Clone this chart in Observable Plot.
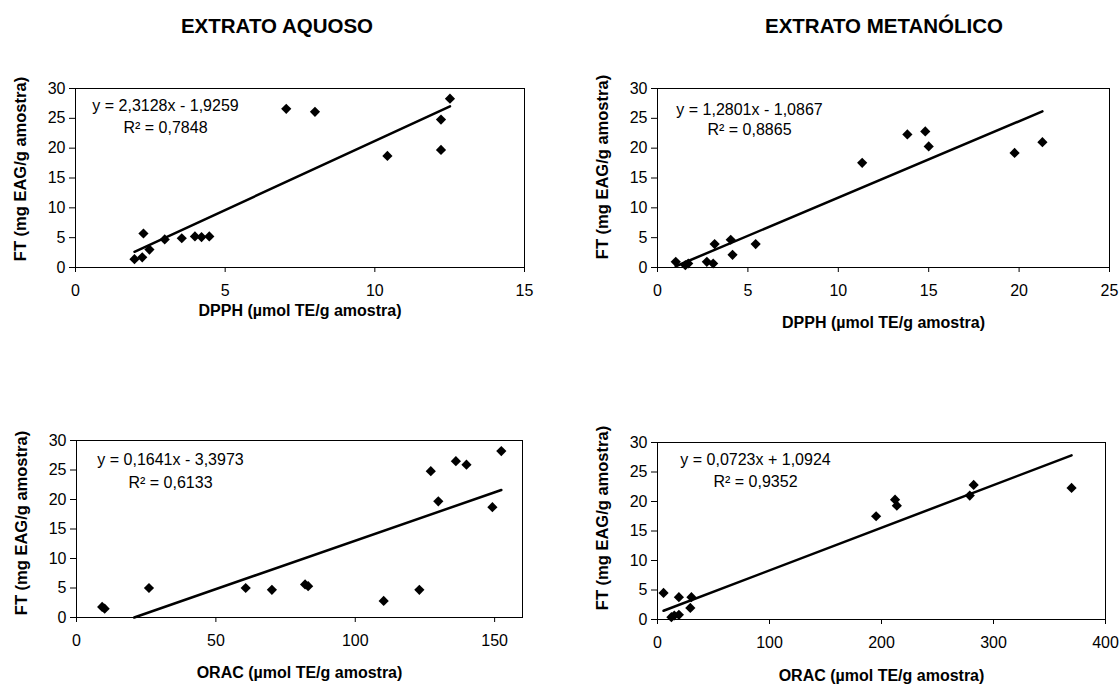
<!DOCTYPE html>
<html><head><meta charset="utf-8">
<script src="https://cdn.jsdelivr.net/npm/d3@7"></script>
<script src="https://cdn.jsdelivr.net/npm/@observablehq/plot@0.6"></script>
<style>
body{margin:0;background:#fff;font-family:"Liberation Sans",Arial,sans-serif;}
#root{position:relative;width:1120px;height:688px;overflow:hidden;}
.title{position:absolute;font-weight:bold;font-size:20.5px;transform:translate(-50%,-50%);white-space:nowrap;color:#000;}
.panel{position:absolute;}
</style></head><body><div id="root"></div>
<script>
// ---- text ----
const titles = ["EXTRATO AQUOSO", "EXTRATO METANÓLICO"];
const yLabel = "FT (mg EAG/g amostra)";
const xLabelDpph = "DPPH (µmol TE/g amostra)";
const xLabelOrac = "ORAC (µmol TE/g amostra)";

// ---- ticks ----
const yTicks = [0, 5, 10, 15, 20, 25, 30];
const ticksDpphAq = [0, 5, 10, 15];
const ticksDpphMe = [0, 5, 10, 15, 20, 25];
const ticksOracAq = [0, 50, 100, 150];
const ticksOracMe = [0, 100, 200, 300, 400];

// ---- data: aqueous extract, DPPH ----
const aqDpphX = [1.97, 2.23, 2.27, 2.47, 2.98, 3.55, 3.99, 4.21, 4.47, 7.04, 8.0, 10.42, 12.21, 12.21, 12.51];
const aqDpphY = [1.4, 1.7, 5.7, 3.0, 4.7, 4.9, 5.2, 5.1, 5.2, 26.6, 26.1, 18.7, 24.8, 19.7, 28.3];
const aqDpphEq = ["y = 2,3128x - 1,9259", "R² = 0,7848"];
const aqDpphFit = [2.3128, -1.9259];

// ---- data: methanolic extract, DPPH ----
const meDpphX = [1.01, 1.54, 1.70, 2.73, 3.08, 3.16, 4.05, 4.15, 5.43, 11.32, 13.82, 14.81, 15.0, 19.75, 21.29];
const meDpphY = [0.95, 0.39, 0.67, 0.95, 0.67, 3.93, 4.65, 2.13, 3.93, 17.55, 22.3, 22.8, 20.3, 19.2, 21.0];
const meDpphEq = ["y = 1,2801x - 1,0867", "R² = 0,8865"];
const meDpphFit = [1.2801, -1.0867];

// ---- data: aqueous extract, ORAC ----
const aqOracX = [9.2, 10.1, 26.0, 60.7, 70.1, 82.0, 83.1, 110.2, 123.0, 127.1, 129.8, 136.1, 139.9, 149.2, 152.4];
const aqOracY = [1.8, 1.5, 5.0, 5.0, 4.7, 5.6, 5.3, 2.8, 4.7, 24.8, 19.7, 26.5, 25.9, 18.7, 28.2];
const aqOracEq = ["y = 0,1641x - 3,3973", "R² = 0,6133"];
const aqOracFit = [0.1641, -3.3973];

// ---- data: methanolic extract, ORAC ----
const meOracX = [5.4, 12.4, 15.0, 19.1, 19.1, 29.3, 30.3, 195.2, 212.1, 213.7, 278.8, 282.3, 369.7];
const meOracY = [4.5, 0.39, 0.68, 3.78, 0.79, 1.97, 3.78, 17.5, 20.3, 19.3, 21.0, 22.8, 22.3];
const meOracEq = ["y = 0,0723x + 1,0924", "R² = 0,9352"];
const meOracFit = [0.0723, 1.0924];

const root = document.getElementById("root");

function addTitle(text, cx, cy) {
  const d = document.createElement("div");
  d.className = "title";
  d.textContent = text;
  d.style.left = cx + "px";
  d.style.top = cy + "px";
  root.appendChild(d);
}
addTitle(titles[0], 277, 26);
addTitle(titles[1], 884, 26);

function panel(cfg) {
  const {left, top, frame, xDomain, xTicks, xs, ys, fit, eq, xLabel, eqDx, eqDy, eqDy2, xLabelDy, yLabelDy} = cfg;
  const W = 560, H = 300;
  const [L, R, T, B] = frame;
  const pts = xs.map((x, i) => ({x, y: ys[i]}));
  const [m, b] = fit;
  const xmin = d3.min(xs), xmax = d3.max(xs);
  const x0 = (-b / m > xmin) ? -b / m : xmin;
  const trend = [{x: x0, y: m * x0 + b}, {x: xmax, y: m * xmax + b}];
  const chart = Plot.plot({
    width: W, height: H,
    marginLeft: L - left, marginRight: left + W - R,
    marginTop: T - top, marginBottom: top + H - B,
    style: {fontFamily: '"Liberation Sans", Arial, sans-serif', fontSize: "16px", color: "#000", background: "transparent", overflow: "visible"},
    x: {domain: xDomain},
    y: {domain: [0, 30]},
    marks: [
      Plot.frame({stroke: "#000", strokeWidth: 1}),
      Plot.axisX({ticks: xTicks, tickSize: 5, tickPadding: 12, label: null, tickFormat: d => String(d)}),
      Plot.axisY({ticks: yTicks, tickSize: 6, tickPadding: 4, label: null, tickFormat: d => String(d)}),
      Plot.line(trend, {x: "x", y: "y", stroke: "#000", strokeWidth: 2.5}),
      Plot.dot(pts, {x: "x", y: "y", symbol: "diamond2", r: 4.6, fill: "#000", stroke: "none"}),
      Plot.text([eq[0]], {frameAnchor: "top-left", dx: eqDx, dy: eqDy, textAnchor: "middle", fontSize: 16}),
      Plot.text([eq[1]], {frameAnchor: "top-left", dx: eqDx, dy: eqDy2, textAnchor: "middle", fontSize: 16}),
      Plot.text([yLabel], {frameAnchor: "left", dx: -55, dy: yLabelDy, rotate: -90, textAnchor: "middle", fontSize: 16.5, fontWeight: "bold"}),
      Plot.text([xLabel], {frameAnchor: "bottom", dy: xLabelDy, textAnchor: "middle", fontSize: 16, fontWeight: "bold"})
    ]
  });
  chart.classList.add("panel");
  chart.style.left = left + "px";
  chart.style.top = top + "px";
  root.appendChild(chart);
}

panel({left: 0, top: 40, frame: [75, 524, 88, 267], xDomain: [0, 15], xTicks: ticksDpphAq,
  xs: aqDpphX, ys: aqDpphY, fit: aqDpphFit, eq: aqDpphEq, xLabel: xLabelDpph, eqDx: 90, eqDy: 11, eqDy2: 33, xLabelDy: 48, yLabelDy: -9});
panel({left: 560, top: 40, frame: [657, 1109, 88, 267], xDomain: [0, 25], xTicks: ticksDpphMe,
  xs: meDpphX, ys: meDpphY, fit: meDpphFit, eq: meDpphEq, xLabel: xLabelDpph, eqDx: 92, eqDy: 15, eqDy2: 35, xLabelDy: 60, yLabelDy: -11});
panel({left: 0, top: 388, frame: [76, 522, 440, 617], xDomain: [0, 160], xTicks: ticksOracAq,
  xs: aqOracX, ys: aqOracY, fit: aqOracFit, eq: aqOracEq, xLabel: xLabelOrac, eqDx: 94, eqDy: 13, eqDy2: 36, xLabelDy: 60, yLabelDy: -6});
panel({left: 560, top: 388, frame: [657, 1105, 442, 619], xDomain: [0, 400], xTicks: ticksOracMe,
  xs: meOracX, ys: meOracY, fit: meOracFit, eq: meOracEq, xLabel: xLabelOrac, eqDx: 98, eqDy: 11, eqDy2: 33, xLabelDy: 61, yLabelDy: -13});
</script>
</body></html>
